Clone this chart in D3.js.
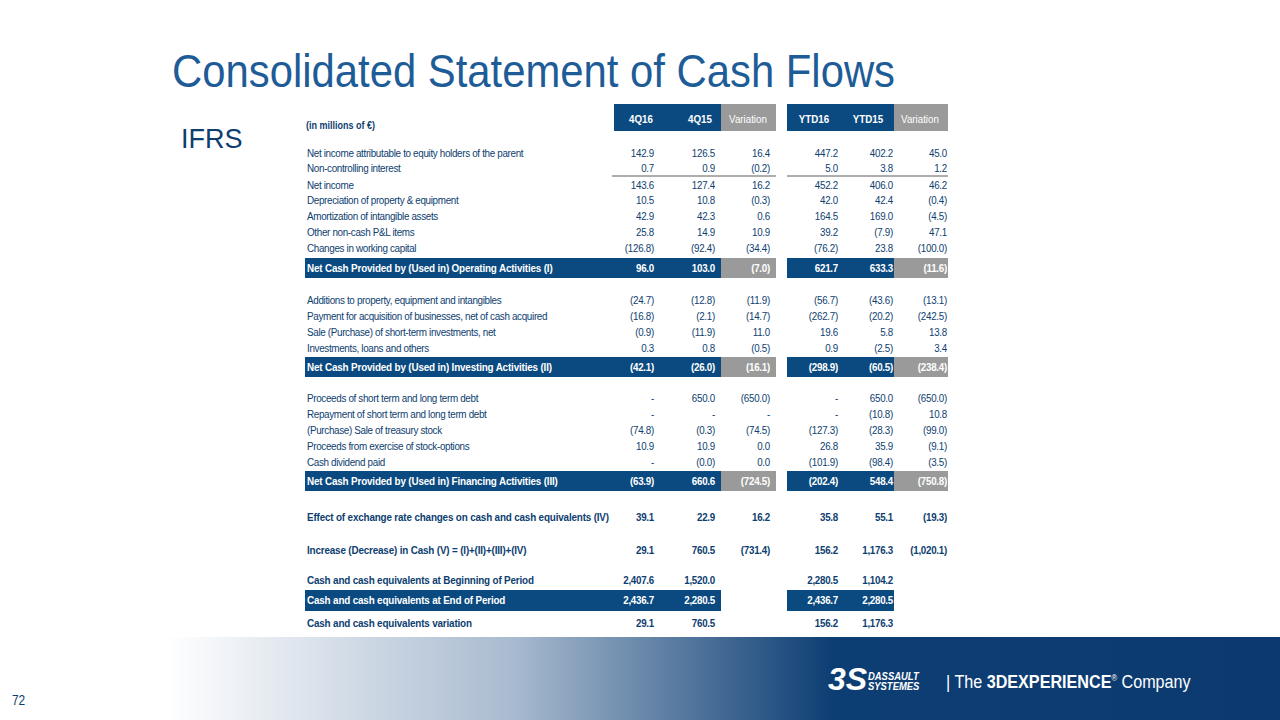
<!DOCTYPE html><html><head><meta charset="utf-8">
<script src="https://cdn.jsdelivr.net/npm/d3@7"></script>
<style>body{margin:0;background:#fff}svg{display:block}</style></head><body>
<svg id="c" width="1280" height="720"></svg>
<script>
const columns=["4Q16","4Q15","Variation","YTD16","YTD15","Variation"];
const labels=["Net income attributable to equity holders of the parent","Non-controlling interest","Net income","Depreciation of property & equipment","Amortization of intangible assets","Other non-cash P&L items","Changes in working capital","Net Cash Provided by (Used in) Operating Activities (I)",
"Additions to property, equipment and intangibles","Payment for acquisition of businesses, net of cash acquired","Sale (Purchase) of short-term investments, net","Investments, loans and others","Net Cash Provided by (Used in) Investing Activities (II)",
"Proceeds of short term and long term debt","Repayment of short term and long term debt","(Purchase) Sale of treasury stock","Proceeds from exercise of stock-options","Cash dividend paid","Net Cash Provided by (Used in) Financing Activities (III)",
"Effect of exchange rate changes on cash and cash equivalents (IV)","Increase (Decrease) in Cash (V) = (I)+(II)+(III)+(IV)","Cash and cash equivalents at Beginning of Period","Cash and cash equivalents at End of Period","Cash and cash equivalents variation"];
const values=[
["142.9","126.5","16.4","447.2","402.2","45.0"],
["0.7","0.9","(0.2)","5.0","3.8","1.2"],
["143.6","127.4","16.2","452.2","406.0","46.2"],
["10.5","10.8","(0.3)","42.0","42.4","(0.4)"],
["42.9","42.3","0.6","164.5","169.0","(4.5)"],
["25.8","14.9","10.9","39.2","(7.9)","47.1"],
["(126.8)","(92.4)","(34.4)","(76.2)","23.8","(100.0)"],
["96.0","103.0","(7.0)","621.7","633.3","(11.6)"],
["(24.7)","(12.8)","(11.9)","(56.7)","(43.6)","(13.1)"],
["(16.8)","(2.1)","(14.7)","(262.7)","(20.2)","(242.5)"],
["(0.9)","(11.9)","11.0","19.6","5.8","13.8"],
["0.3","0.8","(0.5)","0.9","(2.5)","3.4"],
["(42.1)","(26.0)","(16.1)","(298.9)","(60.5)","(238.4)"],
["-","650.0","(650.0)","-","650.0","(650.0)"],
["-","-","-","-","(10.8)","10.8"],
["(74.8)","(0.3)","(74.5)","(127.3)","(28.3)","(99.0)"],
["10.9","10.9","0.0","26.8","35.9","(9.1)"],
["-","(0.0)","0.0","(101.9)","(98.4)","(3.5)"],
["(63.9)","660.6","(724.5)","(202.4)","548.4","(750.8)"],
["39.1","22.9","16.2","35.8","55.1","(19.3)"],
["29.1","760.5","(731.4)","156.2","1,176.3","(1,020.1)"],
["2,407.6","1,520.0","","2,280.5","1,104.2",""],
["2,436.7","2,280.5","","2,436.7","2,280.5",""],
["29.1","760.5","","156.2","1,176.3",""]];
const rowY=[153,168,185,200,216,232,248,268,300,316,332,348,367,398,414,430,446,462,481,517,550,580,600,623];
const totalRows=[7,12,18];const boldRows=[7,12,18,19,20,21,22,23];
const blue="#0b4a80",gray="#9a9a9a",navy="#0d3e70";
const svg=d3.select("#c");
const F="'Liberation Sans',Arial,sans-serif";
const g=svg.append("defs").append("linearGradient").attr("id","gr");
[[0,"#fff"],[0.13,"#fff"],[0.4,"#a9bbd0"],[0.65,"#0d3e73"],[1,"#0c3a70"]].forEach(s=>g.append("stop").attr("offset",s[0]).attr("stop-color",s[1]));
svg.append("rect").attr("x",0).attr("y",637).attr("width",1280).attr("height",83).attr("fill","url(#gr)");
function ctext(x,y,sx){return svg.append("text").attr("transform",`translate(${x},${y}) scale(${sx},1)`).attr("font-family",F);}
ctext(172,87,0.89).attr("font-size",47).attr("fill","#1e5c98").text("Consolidated Statement of Cash Flows");
svg.append("text").attr("x",181).attr("y",148).attr("font-family",F).attr("font-size",27).attr("fill",navy).text("IFRS");
ctext(12,705,0.85).attr("font-size",14).attr("fill",navy).text("72");
const lg=svg.append("g").attr("font-family",F).attr("fill","#fff");
lg.append("text").attr("x",828).attr("y",690).attr("font-size",32).attr("font-style","italic").attr("font-weight","bold").text("3S");
lg.append("text").attr("transform","translate(868,680) scale(0.9,1)").attr("font-size",10.5).attr("font-style","italic").attr("font-weight","bold").text("DASSAULT");
lg.append("text").attr("transform","translate(868,690) scale(0.9,1)").attr("font-size",10.5).attr("font-style","italic").attr("font-weight","bold").text("SYSTEMES");
const lt=lg.append("text").attr("transform","translate(946,688) scale(0.85,1)").attr("font-size",19);
lt.append("tspan").text("| The ");lt.append("tspan").attr("font-weight","bold").text("3DEXPERIENCE");
lt.append("tspan").attr("font-size",9).attr("dy",-7).text("®");lt.append("tspan").attr("dy",7).text(" Company");
const colX=d3.scaleOrdinal().domain(d3.range(6)).range([654,715,770,838,893,947]);
const boxes=[[614,721,blue],[721,776,gray],[787,894,blue],[894,948,gray]];
boxes.forEach(b=>svg.append("rect").attr("x",b[0]).attr("y",104).attr("width",b[1]-b[0]).attr("height",27).attr("fill",b[2]));
const hdrX=[641,700,748,814,868,920];
columns.forEach((c,i)=>ctext(hdrX[i],123,0.85).attr("text-anchor","middle").attr("font-size",11.5).attr("font-weight",i%3==2?"normal":"bold").attr("fill","#fff").text(c));
ctext(306,129,0.9).attr("font-size",10).attr("font-weight","bold").attr("fill",navy).text("(in millions of €)");
totalRows.forEach(r=>{const y=rowY[r]-10;
 boxes.concat([[305,614,blue]]).forEach(b=>svg.append("rect").attr("x",b[0]).attr("y",y).attr("width",b[1]-b[0]).attr("height",20).attr("fill",b[2]));});
[[305,721],[787,894]].forEach(b=>svg.append("rect").attr("x",b[0]).attr("y",rowY[22]-10).attr("width",b[1]-b[0]).attr("height",21).attr("fill",blue));
[[176,612,776],[176,787,948]].forEach(l=>svg.append("line").attr("x1",l[1]).attr("x2",l[2]).attr("y1",l[0]).attr("y2",l[0]).attr("stroke","#333").attr("stroke-width",0.8));
labels.forEach((lab,r)=>{
 const tot=totalRows.includes(r)||r==22,b=boldRows.includes(r);
 ctext(307,rowY[r]+4,b?0.86:0.86).attr("font-size",11.5).attr("letter-spacing",b?-0.2:-0.4).attr("font-weight",b?"bold":"normal").attr("fill",tot?"#fff":navy).text(lab);
 values[r].forEach((v,i)=>{
   ctext(colX(i),rowY[r]+4,0.85).attr("text-anchor","end").attr("font-size",11.5).attr("letter-spacing",-0.3).attr("font-weight",b?"bold":"normal").attr("fill",tot?"#fff":navy).text(v);
 });
});
</script></body></html>
